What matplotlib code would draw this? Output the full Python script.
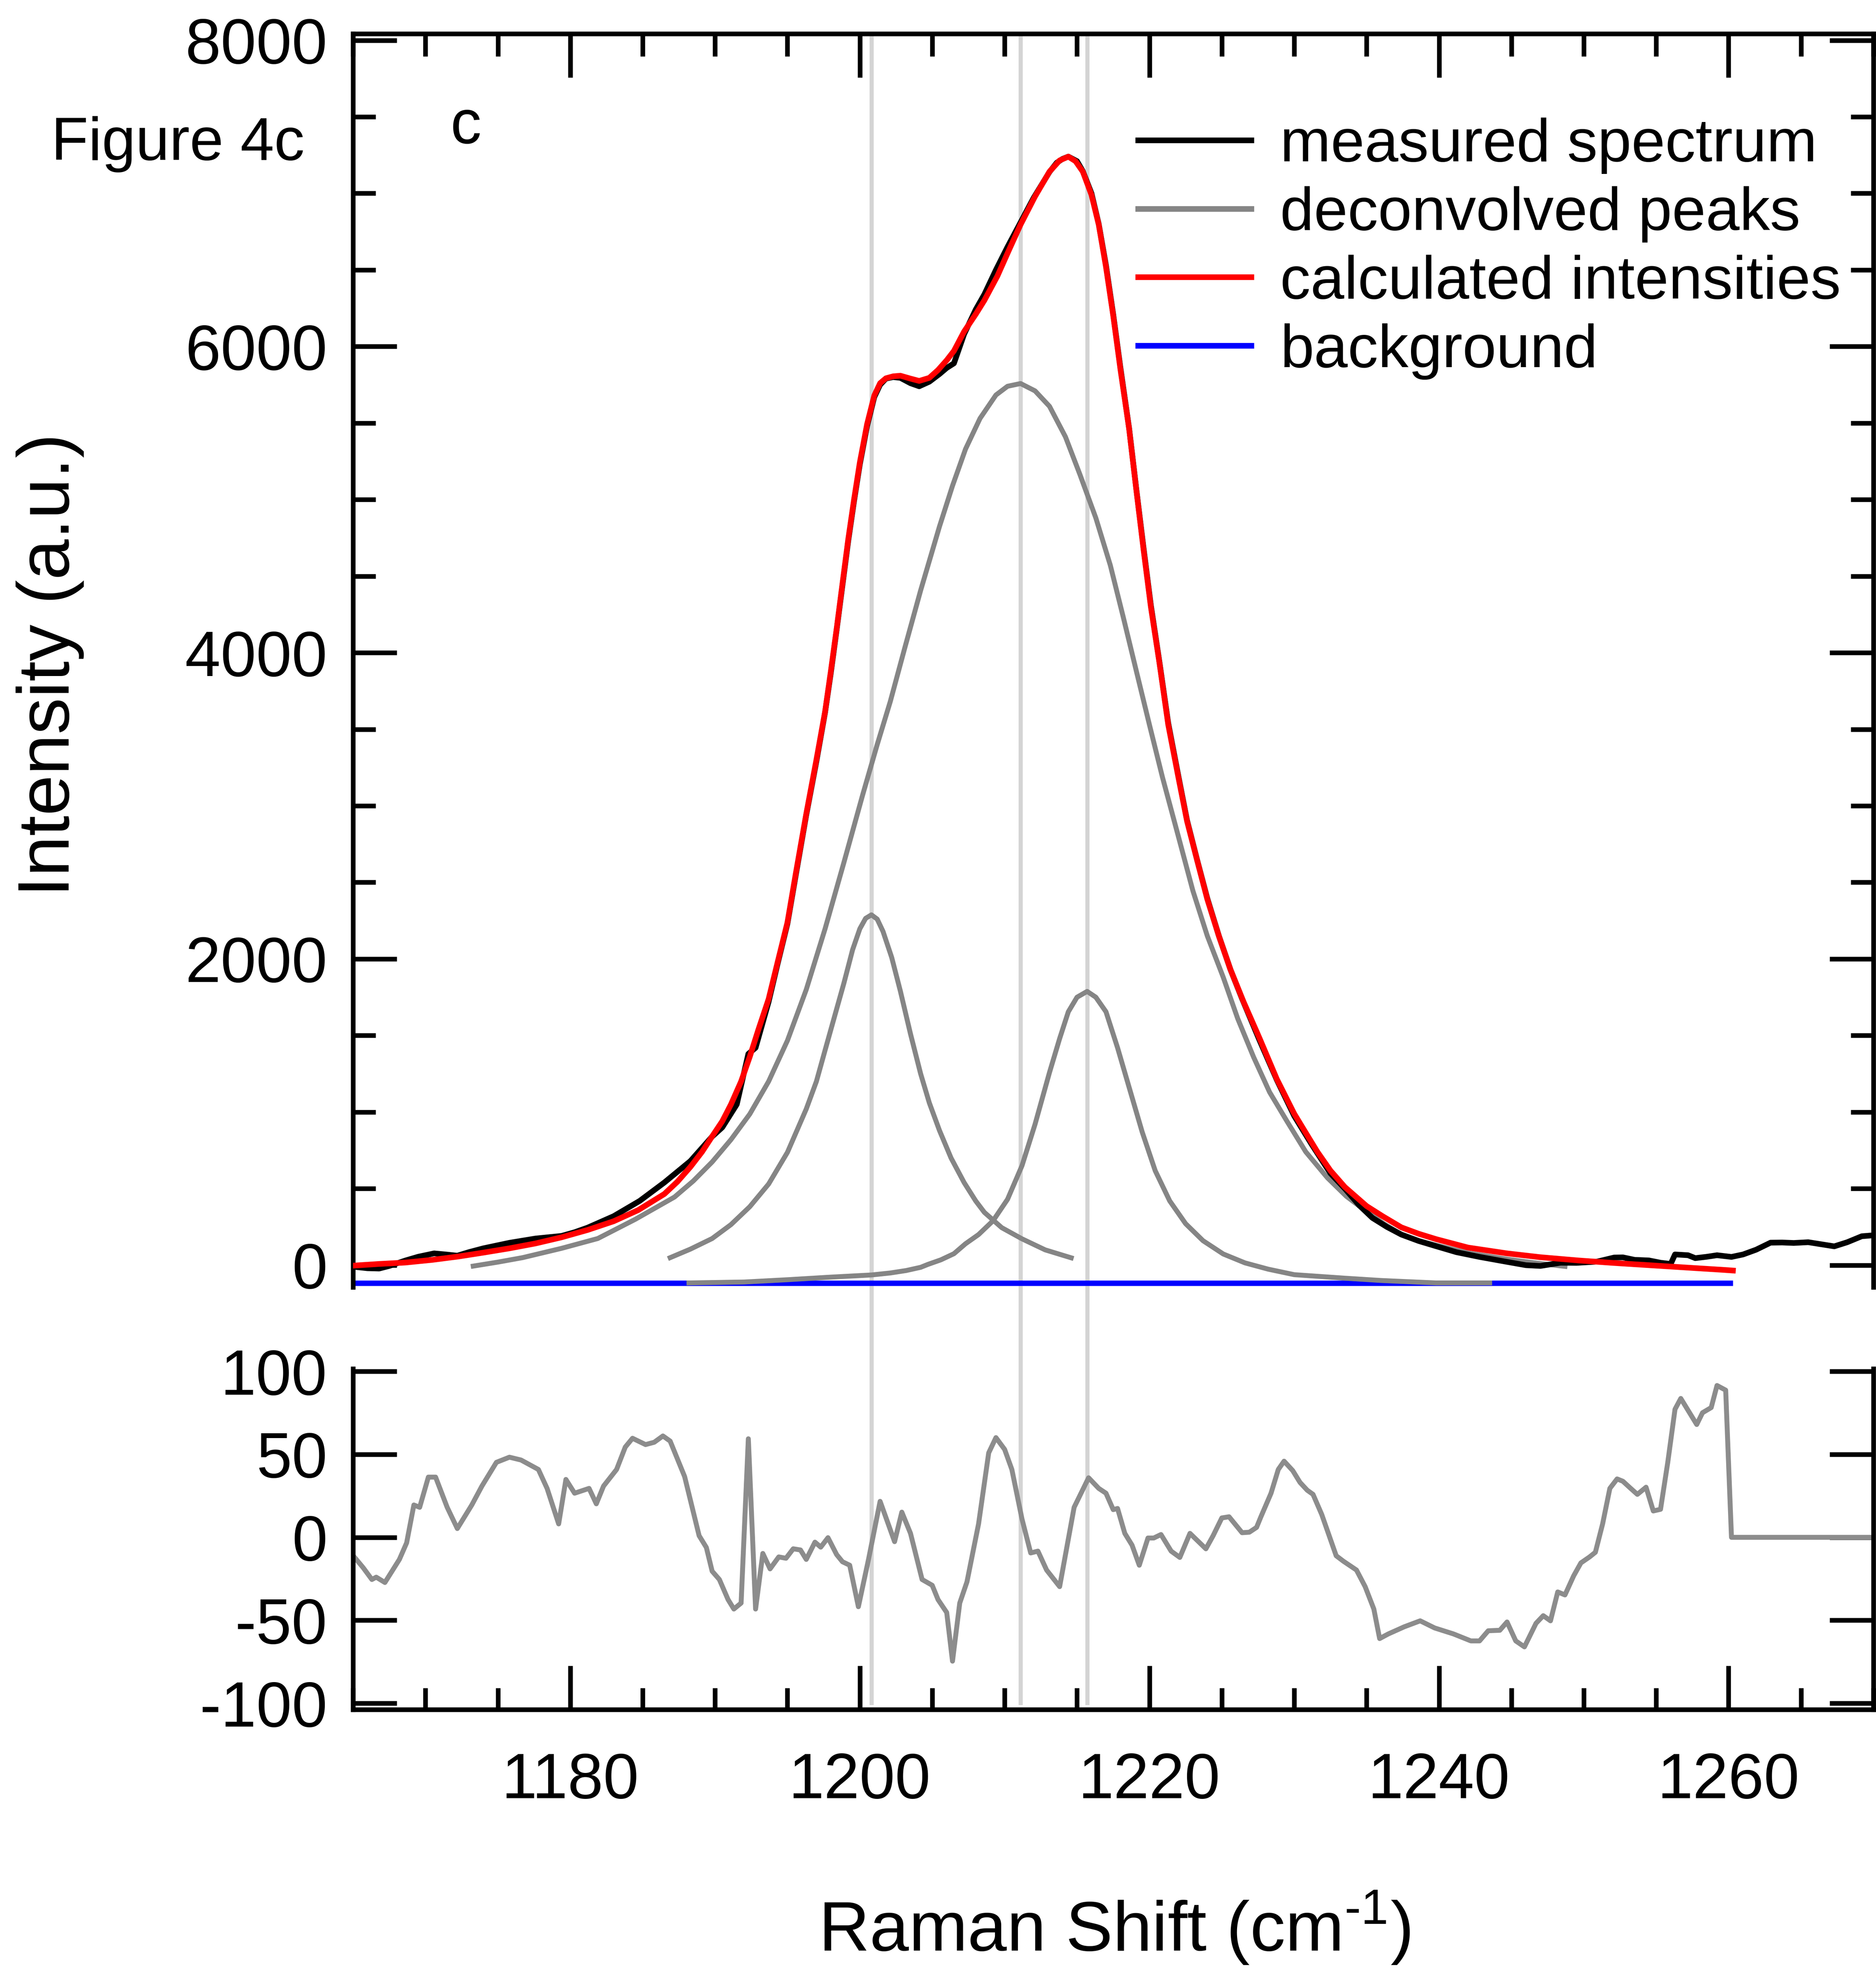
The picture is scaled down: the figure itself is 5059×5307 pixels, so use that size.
import matplotlib.pyplot as plt
from matplotlib.ticker import MultipleLocator

# ── config ──────────────────────────────────────────────────────────────────
plt.rcParams["font.family"] = ["Liberation Sans", "DejaVu Sans"]
plt.rcParams["mathtext.fontset"] = "custom"
plt.rcParams["mathtext.rm"] = "Liberation Sans"
plt.rcParams["axes.unicode_minus"] = False

GRAY = "#858585"
VLINE = "#d4d4d4"

# ── data ────────────────────────────────────────────────────────────────────
meas_x = [1165.0, 1166.0, 1166.8, 1167.5, 1168.6, 1169.5, 1170.6, 1171.4, 1172.2,
          1173.0, 1174.0, 1175.0, 1175.8, 1177.6, 1179.4, 1180.3, 1181.2, 1183.0,
          1184.8, 1186.5, 1188.3, 1189.8, 1190.5, 1191.5, 1192.3, 1192.8, 1193.7,
          1194.3, 1195.0, 1195.6, 1196.3, 1197.0, 1197.6, 1198.0, 1198.4, 1198.8,
          1199.2, 1199.6, 1200.0, 1200.5, 1201.0, 1201.4, 1201.8, 1202.3, 1202.8,
          1203.5, 1204.1, 1204.8, 1205.5, 1206.0, 1206.5, 1207.2, 1208.0, 1208.6,
          1209.4, 1210.2, 1211.1, 1212.0, 1213.1, 1213.6, 1214.0, 1214.4, 1215.0,
          1215.4, 1216.0, 1216.5, 1217.0, 1217.5, 1218.0, 1218.6, 1219.1, 1219.6,
          1220.1, 1220.7, 1221.3, 1222.0, 1222.6, 1223.3, 1224.0, 1224.8, 1225.6,
          1226.4, 1227.6, 1228.8, 1230.0, 1231.2, 1232.5, 1233.5, 1234.5, 1235.4,
          1236.4, 1237.4, 1238.6, 1239.8, 1241.2, 1242.8, 1244.5, 1246.0, 1247.0,
          1248.4, 1249.5, 1250.9, 1252.1, 1252.7, 1253.5, 1254.5, 1255.3, 1256.0,
          1256.3, 1257.2, 1257.7, 1258.5, 1259.2, 1260.2, 1261.0, 1261.9, 1262.9,
          1263.7, 1264.5, 1265.5, 1266.5, 1267.3, 1268.2, 1269.2, 1270.0]
meas_y = [-10, -20, -22, -5, 30, 55, 77, 70, 62,
          85, 110, 130, 146, 174, 191, 215, 245, 320,
          420, 540, 680, 840, 900, 1050, 1380, 1420, 1720,
          1960, 2230, 2560, 2940, 3290, 3610, 3870, 4150, 4440,
          4730, 4990, 5230, 5480, 5670, 5750, 5790, 5800, 5795,
          5760, 5740, 5770, 5820, 5860, 5890, 6080, 6240, 6340,
          6500, 6650, 6810, 6970, 7140, 7200, 7225, 7240, 7210,
          7145, 7000, 6800, 6530, 6210, 5860, 5465, 5065, 4680,
          4310, 3935, 3540, 3195, 2905, 2645, 2395, 2150, 1930,
          1740, 1470, 1210, 975, 790, 600, 500, 390, 309,
          250, 200, 158, 124, 85, 54, 25, 0, -5,
          16, 15, 23, 50, 51, 35, 31, 16, 8,
          70, 65, 46, 55, 65, 54, 70, 101, 147,
          148, 145, 150, 135, 123, 150, 189, 195]

calc_x = [1165.0, 1166.8, 1168.6, 1170.5, 1172.3, 1174.0, 1175.8, 1177.6, 1179.4,
          1181.2, 1183.0, 1184.7, 1186.5, 1187.4, 1188.3, 1189.1, 1189.8, 1190.5,
          1191.1, 1191.8, 1192.4, 1193.0, 1193.7, 1194.3, 1195.0, 1195.6, 1196.3,
          1197.0, 1197.6, 1198.0, 1198.4, 1198.8, 1199.2, 1199.6, 1200.0, 1200.5,
          1201.0, 1201.4, 1201.8, 1202.3, 1202.8, 1203.5, 1204.1, 1204.8, 1205.4,
          1206.0, 1206.5, 1207.2, 1208.0, 1208.6, 1209.5, 1210.3, 1211.1, 1212.1,
          1213.1, 1213.8, 1214.4, 1214.9, 1215.4, 1216.0, 1216.5, 1217.0, 1217.5,
          1218.0, 1218.6, 1219.1, 1219.6, 1220.1, 1220.7, 1221.3, 1222.0, 1222.6,
          1223.3, 1224.0, 1224.8, 1225.6, 1226.5, 1227.6, 1228.8, 1230.0, 1230.8,
          1231.6, 1232.5, 1233.5, 1235.0, 1236.1, 1237.4, 1238.6, 1239.8, 1242.0,
          1244.7, 1247.0, 1249.6, 1252.0, 1254.5, 1257.0, 1259.7, 1260.3]
calc_y = [-3, 8, 17, 35, 57, 82, 110, 142, 182,
          230, 287, 360, 465, 545, 642, 740, 841, 940,
          1050, 1200, 1362, 1540, 1738, 1970, 2238, 2570, 2947,
          3300, 3615, 3880, 4157, 4450, 4741, 5000, 5242, 5492,
          5680, 5760, 5792, 5805, 5809, 5790, 5775, 5795, 5846,
          5910, 5971, 6097, 6210, 6301, 6460, 6630, 6796, 6980,
          7142, 7215, 7240, 7210, 7142, 6990, 6796, 6520, 6202,
          5850, 5461, 5060, 4670, 4300, 3929, 3530, 3187, 2900,
          2643, 2390, 2149, 1930, 1720, 1483, 1215, 989, 864,
          740, 618, 510, 386, 320, 247, 205, 170, 115,
          77, 52, 31, 15, 0, -15, -31, -35]

bg_x = [1165.0, 1260.3]
bg_y = [-116, -116]

peak1_x = [1186.9, 1188.3, 1189.8, 1191.1, 1192.4, 1193.7, 1195.0, 1196.3, 1197.0,
           1197.6, 1198.3, 1198.9, 1199.5, 1200.0, 1200.4, 1200.8, 1201.2, 1201.6,
           1202.2, 1202.8, 1203.5, 1204.2, 1204.8, 1205.5, 1206.3, 1207.2, 1208.0,
           1208.6, 1209.8, 1211.2, 1212.8, 1214.6]
peak1_y = [49, 105, 174, 265, 382, 530, 737, 1020, 1200,
           1404, 1640, 1842, 2060, 2197, 2265, 2288, 2260, 2180,
           2010, 1790, 1510, 1250, 1060, 880, 700, 540, 420,
           345, 245, 172, 100, 48]

peak2_x = [1173.3, 1175.0, 1176.7, 1179.4, 1181.9, 1184.5, 1187.2, 1188.5, 1189.8,
           1191.1, 1192.4, 1193.7, 1195.0, 1196.3, 1197.6, 1198.9, 1200.2, 1201.2,
           1202.1, 1203.1, 1204.2, 1205.5, 1206.4, 1207.3, 1208.3, 1209.4, 1210.2,
           1211.1, 1212.1, 1213.1, 1214.2, 1215.2, 1216.3, 1217.3, 1218.2, 1219.1,
           1220.0, 1220.9, 1222.0, 1223.0, 1224.0, 1225.1, 1226.1, 1227.2, 1228.3,
           1229.5, 1230.8, 1232.3, 1233.6, 1235.0, 1236.2, 1237.4, 1238.6, 1239.8,
           1242.0, 1244.7, 1246.7, 1248.7]
peak2_y = [-6, 20, 49, 110, 174, 300, 445, 550, 674,
           820, 987, 1200, 1467, 1800, 2197, 2630, 3073, 3400,
           3680, 4030, 4407, 4824, 5090, 5330, 5530, 5683, 5740,
           5758, 5710, 5609, 5410, 5164, 4880, 4571, 4230, 3879,
           3530, 3187, 2800, 2446, 2150, 1880, 1610, 1358, 1130,
           940, 740, 570, 450, 350, 270, 201, 160, 131,
           80, 39, 14, -8]

peak3_x = [1188.2, 1192.0, 1195.0, 1198.0, 1200.8, 1202.1, 1203.2, 1204.2, 1204.7,
           1205.6, 1206.5, 1207.3, 1208.2, 1209.2, 1210.2, 1211.2, 1212.1, 1213.1,
           1213.8, 1214.4, 1215.0, 1215.7, 1216.3, 1217.0, 1217.8, 1218.6, 1219.5,
           1220.4, 1221.4, 1222.5, 1223.7, 1225.1, 1226.6, 1228.2, 1230.0, 1233.5,
           1236.0, 1239.8, 1243.5]
peak3_y = [-116, -110, -95, -78, -64, -51, -35, -14, 5,
           35, 75, 140, 200, 290, 430, 650, 920, 1259,
           1480, 1655, 1750, 1788, 1750, 1655, 1420, 1161, 870,
           617, 420, 271, 160, 73, 15, -26, -62, -85,
           -100, -116, -116]

peak_pos = [1200.8, 1211.1, 1215.7]

res_x = [1165.1, 1165.7, 1166.3, 1166.6, 1167.2, 1168.2, 1168.7, 1169.2, 1169.6,
         1170.2, 1170.7, 1171.5, 1172.2, 1173.2, 1173.9, 1174.9, 1175.8, 1176.6,
         1177.8, 1178.4, 1179.2, 1179.7, 1180.3, 1181.3, 1181.8, 1182.3, 1183.2,
         1183.8, 1184.3, 1185.2, 1185.8, 1186.4, 1186.9, 1187.9, 1188.9, 1189.4,
         1189.8, 1190.3, 1190.9, 1191.3, 1191.8, 1192.3, 1192.8, 1193.3, 1193.8,
         1194.4, 1194.9, 1195.4, 1195.9, 1196.3, 1196.9, 1197.3, 1197.8, 1198.4,
         1198.8, 1199.3, 1199.9, 1200.6, 1201.4, 1202.4, 1202.9, 1203.5, 1204.3,
         1205.0, 1205.4, 1206.0, 1206.4, 1206.9, 1207.4, 1208.2, 1208.9, 1209.4,
         1210.0, 1210.5, 1211.2, 1211.8, 1212.3, 1212.9, 1213.8, 1214.8, 1215.8,
         1216.5, 1217.0, 1217.5, 1217.8, 1218.3, 1218.8, 1219.3, 1219.9, 1220.3,
         1220.8, 1221.5, 1222.1, 1222.8, 1223.9, 1224.4, 1225.0, 1225.5, 1226.4,
         1226.9, 1227.4, 1227.7, 1228.4, 1228.9, 1229.3, 1229.9, 1230.4, 1230.9,
         1231.3, 1231.9, 1232.9, 1233.4, 1234.3, 1234.9, 1235.5, 1235.9, 1236.5,
         1237.6, 1238.7, 1239.7, 1241.0, 1242.2, 1242.8, 1243.4, 1244.2, 1244.7,
         1245.3, 1245.9, 1246.7, 1247.2, 1247.7, 1248.2, 1248.7, 1249.3, 1249.8,
         1250.4, 1250.8, 1251.3, 1251.8, 1252.3, 1252.7, 1253.2, 1253.7, 1254.3,
         1254.8, 1255.3, 1255.8, 1256.3, 1256.7, 1257.8, 1258.2, 1258.8, 1259.2,
         1259.8, 1260.2, 1270.0]
res_y = [-12, -18.3, -25.4, -24, -27.2, -13.3, -3.3, 19.5, 18.1,
         36.3, 36.3, 18.1, 5.3, 19.5, 30.9, 45.2, 48.3, 46.6,
         40.9, 29.5, 8.1, 34.9, 26.6, 29.5, 20.2, 30.9, 40.9,
         54.4, 59.7, 55.9, 57.3, 61.1, 58, 36.6, 1.0, -6.1,
         -20.4, -25.4, -37.5, -43.2, -39.6, 59.4, -43.2, -9.7, -19,
         -11.8, -12.6, -6.9, -7.6, -13.3, -2.9, -5.9, -0.2, -10.4,
         -14.7, -16.8, -41.8, -13.3, 21.7, -2.6, 15.2, 2.4, -25.4,
         -28.9, -37.5, -45.3, -74.6, -39.6, -26.8, 8.1, 50.9, 60.1,
         53, 40.9, 11, -9.4, -8.3, -19.7, -29.7, 18.1, 35.9,
         29.5, 26.6, 16.7, 17.4, 2.4, -4.7, -16.8, -0.4, -0.4,
         1.7, -8.3, -12.1, 2.4, -6.9, 1.0, 11.7, 12.4, 2.8,
         3.1, 6, 12.4, 26.6, 40.9, 45.9, 40.2, 33.1, 28.4,
         25.9, 13.8, -11.1, -14.4, -19.7, -29.7, -43.2, -61, -58.2,
         -53.9, -50.3, -54.6, -58.2, -62.4, -62.4, -56.3, -56, -51,
         -62.4, -66, -51.8, -47.2, -50.3, -32.9, -34.7, -23.2, -15.4,
         -11.8, -9, 8.1, 29.5, 35.2, 33.8, 29.8, 25.9, 30.2,
         15.9, 16.9, 45.2, 77.2, 83.7, 68, 75.1, 78.2, 91.5,
         88.7, 0, 0]

# ── figure layout ───────────────────────────────────────────────────────────
fig = plt.figure(figsize=(50.59, 53.07), dpi=100)
ax1 = fig.add_axes([0.1882, 0.3460, 0.8104, 0.6369])
ax2 = fig.add_axes([0.1882, 0.1313, 0.8104, 0.1732])

LW = 11
SPINE_W = 9
TICK_FS = 124

# ── top panel: spectrum + fit ───────────────────────────────────────────────
for xp in peak_pos:
    ax1.axvline(xp, ymin=-0.066, ymax=1, color=VLINE, lw=8, zorder=0, clip_on=False)

ax1.plot(bg_x, bg_y, color="#0000ff", lw=10.5, zorder=1, solid_capstyle="butt")
for px, py in [(peak1_x, peak1_y), (peak2_x, peak2_y), (peak3_x, peak3_y)]:
    ax1.plot(px, py, color=GRAY, lw=9.5, zorder=2)
ax1.plot(meas_x, meas_y, color="black", lw=LW, zorder=3)
ax1.plot(calc_x, calc_y, color="#ff0000", lw=LW, zorder=4)

ax1.set_xlim(1165, 1270)
ax1.set_ylim(-143, 8043)
ax1.yaxis.set_major_locator(MultipleLocator(2000))
ax1.yaxis.set_minor_locator(MultipleLocator(500))
ax1.xaxis.set_major_locator(MultipleLocator(20))
ax1.xaxis.set_minor_locator(MultipleLocator(5))
ax1.spines["bottom"].set_visible(False)
for s in ["left", "right", "top"]:
    ax1.spines[s].set_linewidth(SPINE_W)
ax1.tick_params(axis="y", which="both", direction="in", left=True, right=True,
                width=SPINE_W, labelsize=TICK_FS, pad=50)
ax1.tick_params(axis="x", which="both", direction="in", top=True, bottom=False,
                labeltop=False, labelbottom=False, width=SPINE_W)
ax1.tick_params(which="major", length=85)
ax1.tick_params(which="minor", length=44)

ax1.text(1172.8, 7329, "c", fontsize=120, ha="center", va="baseline")

# legend
h = [plt.Line2D([], [], color="black", lw=LW),
     plt.Line2D([], [], color=GRAY, lw=LW),
     plt.Line2D([], [], color="#ff0000", lw=LW),
     plt.Line2D([], [], color="#0000ff", lw=LW)]
labels = ["measured spectrum", "deconvolved peaks", "calculated intensities", "background"]
ax1.legend(h, labels, loc="upper left", bbox_to_anchor=(0.5163, 0.933),
           frameon=False, fontsize=118, handlelength=1.86, handletextpad=0.48,
           labelspacing=0.2, borderpad=0, borderaxespad=0)

# ── bottom panel: residuals ─────────────────────────────────────────────────
for xp in peak_pos:
    ax2.axvline(xp, ymin=0.02, ymax=1, color=VLINE, lw=8, zorder=0)
ax2.plot(res_x, res_y, color="#8c8c8c", lw=9.5, zorder=2)

ax2.set_xlim(1165, 1270)
ax2.set_ylim(-103.8, 101.6)
ax2.yaxis.set_major_locator(MultipleLocator(50))
ax2.xaxis.set_major_locator(MultipleLocator(20))
ax2.xaxis.set_minor_locator(MultipleLocator(5))
ax2.spines["top"].set_visible(False)
for s in ["left", "right", "bottom"]:
    ax2.spines[s].set_linewidth(SPINE_W)
ax2.tick_params(axis="y", which="both", direction="in", left=True, right=True,
                width=SPINE_W, labelsize=TICK_FS, pad=50, length=85)
ax2.tick_params(axis="x", which="both", direction="in", top=False, bottom=True,
                width=SPINE_W, labelsize=TICK_FS, pad=82)
ax2.tick_params(axis="x", which="major", length=85)
ax2.tick_params(axis="x", which="minor", length=42)

# ── labels ──────────────────────────────────────────────────────────────────
fig.text(0.0273, 0.9188, "Figure 4c", fontsize=118, ha="left", va="baseline")
fig.text(0.0267, 0.662, "Intensity (a.u.)", fontsize=142, rotation=90,
         ha="center", va="center")
fig.text(0.594, 0.0085, r"Raman Shift (cm$^{\text{-1}}$)", fontsize=137,
         ha="center", va="baseline")

fig.savefig("out.png", dpi=100)
